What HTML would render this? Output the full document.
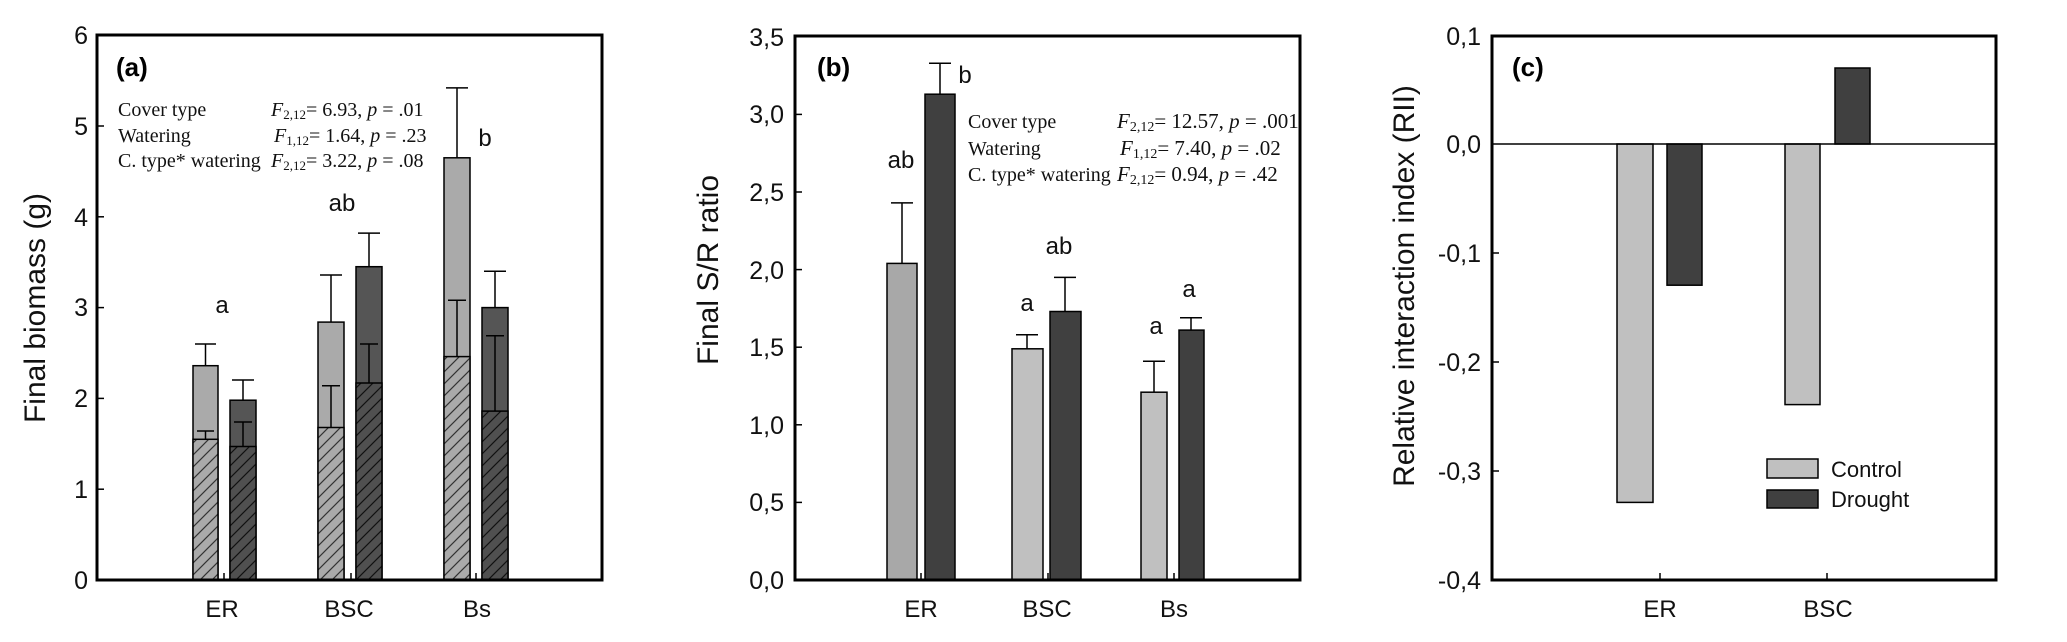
<!DOCTYPE html>
<html><head><meta charset="utf-8"><style>html,body{margin:0;padding:0;background:#fff}</style></head><body>
<svg width="2067" height="637" viewBox="0 0 2067 637" xmlns="http://www.w3.org/2000/svg" font-family="Liberation Sans, sans-serif">
<defs>
<pattern id="hl" patternUnits="userSpaceOnUse" width="12" height="12">
<rect width="12" height="12" fill="#aaaaaa"/><path d="M-3,15 L15,-3 M-3,3 L3,-3 M9,15 L15,9" stroke="#333" stroke-width="1.2"/></pattern>
<pattern id="hd" patternUnits="userSpaceOnUse" width="12" height="12">
<rect width="12" height="12" fill="#505050"/><path d="M-3,15 L15,-3 M-3,3 L3,-3 M9,15 L15,9" stroke="#111" stroke-width="1.2"/></pattern>
</defs>

<!-- Panel A -->
<g stroke="#000" stroke-width="1.5">
<line x1="205.5" y1="365.7" x2="205.5" y2="344" /><line x1="195" y1="344" x2="216" y2="344"/>
<rect x="193" y="365.7" width="25" height="214.3" fill="#aaaaaa"/>
<rect x="193" y="439.3" width="25" height="140.7" fill="url(#hl)"/>
<line x1="205.5" y1="439.3" x2="205.5" y2="431"/><line x1="197" y1="431" x2="214" y2="431"/>
<line x1="243" y1="400.2" x2="243" y2="380"/><line x1="232" y1="380" x2="254" y2="380"/>
<rect x="230" y="400.2" width="26" height="179.8" fill="#555"/>
<rect x="230" y="446.5" width="26" height="133.5" fill="url(#hd)"/>
<line x1="243" y1="446.5" x2="243" y2="422"/><line x1="234" y1="422" x2="252" y2="422"/>
<line x1="331" y1="322.1" x2="331" y2="275"/><line x1="320" y1="275" x2="342" y2="275"/>
<rect x="318" y="322.1" width="26" height="257.9" fill="#aaaaaa"/>
<rect x="318" y="427.5" width="26" height="152.5" fill="url(#hl)"/>
<line x1="331" y1="427.5" x2="331" y2="385.7"/><line x1="322" y1="385.7" x2="340" y2="385.7"/>
<line x1="369" y1="266.7" x2="369" y2="233.1"/><line x1="358" y1="233.1" x2="380" y2="233.1"/>
<rect x="356" y="266.7" width="26" height="313.3" fill="#555"/>
<rect x="356" y="383" width="26" height="197" fill="url(#hd)"/>
<line x1="369" y1="383" x2="369" y2="344"/><line x1="360" y1="344" x2="378" y2="344"/>
<line x1="457" y1="157.8" x2="457" y2="87.9"/><line x1="446" y1="87.9" x2="468" y2="87.9"/>
<rect x="444" y="157.8" width="26" height="422.2" fill="#aaaaaa"/>
<rect x="444" y="356.6" width="26" height="223.4" fill="url(#hl)"/>
<line x1="457" y1="356.6" x2="457" y2="300.3"/><line x1="448" y1="300.3" x2="466" y2="300.3"/>
<line x1="495" y1="307.6" x2="495" y2="271.3"/><line x1="484" y1="271.3" x2="506" y2="271.3"/>
<rect x="482" y="307.6" width="26" height="272.4" fill="#555"/>
<rect x="482" y="411.1" width="26" height="168.9" fill="url(#hd)"/>
<line x1="495" y1="411.1" x2="495" y2="335.7"/><line x1="486" y1="335.7" x2="504" y2="335.7"/>
<line x1="97" y1="489.2" x2="104" y2="489.2"/><line x1="97" y1="398.4" x2="104" y2="398.4"/><line x1="97" y1="307.6" x2="104" y2="307.6"/><line x1="97" y1="216.8" x2="104" y2="216.8"/><line x1="97" y1="126" x2="104" y2="126"/>
<line x1="224" y1="580" x2="224" y2="573"/><line x1="351" y1="580" x2="351" y2="573"/><line x1="476" y1="580" x2="476" y2="573"/>
</g>
<rect x="97" y="35" width="505" height="545" fill="none" stroke="#000" stroke-width="3"/>
<g font-size="25" text-anchor="end" fill="#111">
<text x="88" y="589">0</text><text x="88" y="498">1</text><text x="88" y="407">2</text><text x="88" y="316">3</text><text x="88" y="226">4</text><text x="88" y="135">5</text><text x="88" y="44">6</text>
</g>
<g font-size="24" text-anchor="middle" fill="#111">
<text x="222" y="617">ER</text><text x="349" y="617">BSC</text><text x="477" y="617">Bs</text>
<text x="222" y="313">a</text><text x="342" y="211">ab</text><text x="485" y="146">b</text>
</g>
<text x="116" y="76" font-size="26" font-weight="bold">(a)</text>
<text transform="translate(45,308) rotate(-90)" font-size="30" text-anchor="middle" fill="#111">Final biomass (g)</text>
<g font-family="Liberation Serif, serif" font-size="20" fill="#111">
<text x="118" y="116">Cover type</text><text x="118" y="142">Watering</text><text x="118" y="167">C. type* watering</text>
<text x="271" y="116"><tspan font-style="italic">F</tspan><tspan font-size="13" dy="3">2,12</tspan><tspan dy="-3">= 6.93, </tspan><tspan font-style="italic">p</tspan> = .01</text>
<text x="274" y="142"><tspan font-style="italic">F</tspan><tspan font-size="13" dy="3">1,12</tspan><tspan dy="-3">= 1.64, </tspan><tspan font-style="italic">p</tspan> = .23</text>
<text x="271" y="167"><tspan font-style="italic">F</tspan><tspan font-size="13" dy="3">2,12</tspan><tspan dy="-3">= 3.22, </tspan><tspan font-style="italic">p</tspan> = .08</text>
</g>

<!-- Panel B -->
<g stroke="#000" stroke-width="1.5">
<line x1="902" y1="263.4" x2="902" y2="202.9"/><line x1="891" y1="202.9" x2="913" y2="202.9"/>
<rect x="887" y="263.4" width="30" height="316.6" fill="#a8a8a8"/>
<line x1="940" y1="94.2" x2="940" y2="63.2"/><line x1="929" y1="63.2" x2="951" y2="63.2"/>
<rect x="925" y="94.2" width="30" height="485.8" fill="#404040"/>
<line x1="1027" y1="348.8" x2="1027" y2="334.8"/><line x1="1016" y1="334.8" x2="1038" y2="334.8"/>
<rect x="1012" y="348.8" width="31" height="231.2" fill="#c0c0c0"/>
<line x1="1065" y1="311.5" x2="1065" y2="277.4"/><line x1="1054" y1="277.4" x2="1076" y2="277.4"/>
<rect x="1050" y="311.5" width="31" height="268.5" fill="#404040"/>
<line x1="1154" y1="392.2" x2="1154" y2="361.2"/><line x1="1143" y1="361.2" x2="1165" y2="361.2"/>
<rect x="1141" y="392.2" width="26" height="187.8" fill="#c0c0c0"/>
<line x1="1191" y1="330.1" x2="1191" y2="317.7"/><line x1="1180" y1="317.7" x2="1202" y2="317.7"/>
<rect x="1179" y="330.1" width="25" height="249.9" fill="#404040"/>
<line x1="795" y1="502.4" x2="802" y2="502.4"/><line x1="795" y1="424.8" x2="802" y2="424.8"/><line x1="795" y1="347.2" x2="802" y2="347.2"/><line x1="795" y1="269.6" x2="802" y2="269.6"/><line x1="795" y1="192" x2="802" y2="192"/><line x1="795" y1="114.4" x2="802" y2="114.4"/>
<line x1="921" y1="580" x2="921" y2="573"/><line x1="1048" y1="580" x2="1048" y2="573"/><line x1="1174" y1="580" x2="1174" y2="573"/>
</g>
<rect x="795" y="36" width="505" height="544" fill="none" stroke="#000" stroke-width="3"/>
<g font-size="25" text-anchor="end" fill="#111">
<text x="784" y="589">0,0</text><text x="784" y="511">0,5</text><text x="784" y="434">1,0</text><text x="784" y="356">1,5</text><text x="784" y="279">2,0</text><text x="784" y="201">2,5</text><text x="784" y="123">3,0</text><text x="784" y="46">3,5</text>
</g>
<g font-size="24" text-anchor="middle" fill="#111">
<text x="921" y="617">ER</text><text x="1047" y="617">BSC</text><text x="1174" y="617">Bs</text>
<text x="901" y="168">ab</text><text x="965" y="83">b</text><text x="1059" y="254">ab</text><text x="1027" y="311">a</text><text x="1189" y="297">a</text><text x="1156" y="334">a</text>
</g>
<text x="817" y="76" font-size="26" font-weight="bold">(b)</text>
<text transform="translate(718,270) rotate(-90)" font-size="30" text-anchor="middle" fill="#111">Final  S/R ratio</text>
<g font-family="Liberation Serif, serif" font-size="20" fill="#111">
<text x="968" y="128">Cover type</text><text x="968" y="155">Watering</text><text x="968" y="181">C. type* watering</text>
</g>
<g font-family="Liberation Serif, serif" font-size="21" fill="#111">
<text x="1117" y="128"><tspan font-style="italic">F</tspan><tspan font-size="14" dy="3">2,12</tspan><tspan dy="-3">= 12.57, </tspan><tspan font-style="italic">p</tspan> = .001</text>
<text x="1120" y="155"><tspan font-style="italic">F</tspan><tspan font-size="14" dy="3">1,12</tspan><tspan dy="-3">= 7.40,  </tspan><tspan font-style="italic">p</tspan> = .02</text>
<text x="1117" y="181"><tspan font-style="italic">F</tspan><tspan font-size="14" dy="3">2,12</tspan><tspan dy="-3">= 0.94,  </tspan><tspan font-style="italic">p</tspan> = .42</text>
</g>

<!-- Panel C -->
<g stroke="#000" stroke-width="1.5">
<rect x="1617" y="144" width="36" height="358.4" fill="#c0c0c0"/>
<rect x="1667" y="144" width="35" height="141.2" fill="#404040"/>
<rect x="1785" y="144" width="35" height="260.6" fill="#c0c0c0"/>
<rect x="1835" y="68" width="35" height="76" fill="#404040"/>
<line x1="1492" y1="144" x2="1996" y2="144"/>
<line x1="1492" y1="253" x2="1499" y2="253"/><line x1="1492" y1="362" x2="1499" y2="362"/><line x1="1492" y1="471" x2="1499" y2="471"/>
<line x1="1660" y1="580" x2="1660" y2="573"/><line x1="1827" y1="580" x2="1827" y2="573"/>
<rect x="1767" y="459" width="51" height="19" fill="#c0c0c0"/>
<rect x="1767" y="490" width="51" height="18" fill="#404040"/>
</g>
<rect x="1492" y="36" width="504" height="544" fill="none" stroke="#000" stroke-width="3"/>
<g font-size="25" text-anchor="end" fill="#111">
<text x="1481" y="589">-0,4</text><text x="1481" y="480">-0,3</text><text x="1481" y="371">-0,2</text><text x="1481" y="262">-0,1</text><text x="1481" y="153">0,0</text><text x="1481" y="45">0,1</text>
</g>
<g font-size="24" text-anchor="middle" fill="#111">
<text x="1660" y="617">ER</text><text x="1828" y="617">BSC</text>
</g>
<g font-size="22" fill="#111"><text x="1831" y="477">Control</text><text x="1831" y="507">Drought</text></g>
<text x="1512" y="76" font-size="26" font-weight="bold">(c)</text>
<text transform="translate(1414,286) rotate(-90)" font-size="30" text-anchor="middle" fill="#111">Relative interaction index (RII)</text>
</svg>
</body></html>
